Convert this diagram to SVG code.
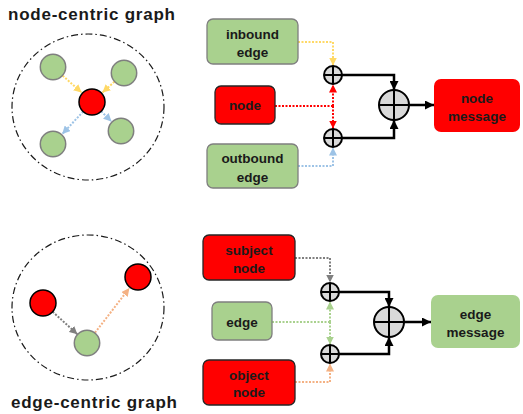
<svg xmlns="http://www.w3.org/2000/svg" width="523" height="414" viewBox="0 0 523 414">
  <style>
    .title { font-family: "Liberation Sans", Arial, sans-serif; font-weight: bold; font-size: 17px; fill: #1a1a1a; }
    .lbl { font-family: "Liberation Sans", Arial, sans-serif; font-weight: bold; font-size: 13.5px; fill: #1a1a1a; text-anchor: middle; }
    .gbox { fill: #A9D18E; stroke: #7F7F7F; stroke-width: 1.3; }
    .rbox { fill: #FF0000; stroke: #262626; stroke-width: 1.3; }
    .gmsg { fill: #A9D18E; }
    .rmsg { fill: #FF0000; }
    .gnode { fill: #A9D18E; stroke: #7F7F7F; stroke-width: 1.5; }
    .rnode { fill: #FF0000; stroke: #000; stroke-width: 1.5; }
    .scope { fill: none; stroke: #1a1a1a; stroke-width: 1.2; stroke-dasharray: 7 3 1.5 3; }
    .sum { fill: #D9D9D9; stroke: #000; stroke-width: 2; }
    .cross { stroke: #000; stroke-width: 2; }
    .dot { fill: none; stroke-width: 2; stroke-dasharray: 2 1.5; }
    .solid { fill: none; stroke: #000; stroke-width: 2.5; }
    .y { stroke: #FFD966; }
    .r { stroke: #FF0000; }
    .b { stroke: #9DC3E6; }
    .k { stroke: #7F7F7F; }
    .g { stroke: #A9D18E; }
    .o { stroke: #F4B183; }
  </style>
  <defs>
    <marker id="ah-y" viewBox="0 0 10 10" refX="10" refY="5" markerWidth="8" markerHeight="8" markerUnits="userSpaceOnUse" orient="auto"><path d="M0,0 L10,5 L0,10 z" fill="#FFD966"/></marker>
    <marker id="ah-r" viewBox="0 0 10 10" refX="10" refY="5" markerWidth="8" markerHeight="8" markerUnits="userSpaceOnUse" orient="auto"><path d="M0,0 L10,5 L0,10 z" fill="#FF0000"/></marker>
    <marker id="ah-b" viewBox="0 0 10 10" refX="10" refY="5" markerWidth="8" markerHeight="8" markerUnits="userSpaceOnUse" orient="auto"><path d="M0,0 L10,5 L0,10 z" fill="#9DC3E6"/></marker>
    <marker id="ah-k" viewBox="0 0 10 10" refX="10" refY="5" markerWidth="8" markerHeight="8" markerUnits="userSpaceOnUse" orient="auto"><path d="M0,0 L10,5 L0,10 z" fill="#7F7F7F"/></marker>
    <marker id="ah-g" viewBox="0 0 10 10" refX="10" refY="5" markerWidth="8" markerHeight="8" markerUnits="userSpaceOnUse" orient="auto"><path d="M0,0 L10,5 L0,10 z" fill="#A9D18E"/></marker>
    <marker id="ah-o" viewBox="0 0 10 10" refX="10" refY="5" markerWidth="8" markerHeight="8" markerUnits="userSpaceOnUse" orient="auto"><path d="M0,0 L10,5 L0,10 z" fill="#F4B183"/></marker>
    <marker id="ah-black" viewBox="0 0 10 10" refX="10" refY="5" markerWidth="9" markerHeight="9" markerUnits="userSpaceOnUse" orient="auto"><path d="M0,0 L10,5 L0,10 z" fill="#000"/></marker>
    <!-- summation symbol: circle with a plus -->
    <g id="plus-s">
      <circle class="sum" cx="0" cy="0" r="9"/>
      <path class="cross" d="M-9,0 H9 M0,-9 V9"/>
    </g>
    <g id="plus-l">
      <circle class="sum" cx="0" cy="0" r="15"/>
      <path class="cross" d="M-15,0 H15 M0,-15 V15"/>
    </g>
  </defs>

  <!-- titles -->
  <text class="title" x="8" y="20" textLength="167" lengthAdjust="spacing">node-centric graph</text>
  <text class="title" x="11" y="408" textLength="166" lengthAdjust="spacing">edge-centric graph</text>

  <!-- node-centric mini graph -->
  <g id="node-centric-graph">
    <ellipse class="scope" cx="88" cy="107" rx="76" ry="73"/>
    <g id="nc-connectors">
      <line class="dot y" x1="62.7" y1="75.7" x2="81.6" y2="92.6" marker-end="url(#ah-y)"/>
      <line class="dot y" x1="114.4" y1="81.7" x2="102.4" y2="92.6" marker-end="url(#ah-y)"/>
      <line class="dot b" x1="83.2" y1="111.5" x2="62.2" y2="134.1" marker-end="url(#ah-b)"/>
      <line class="dot b" x1="101.2" y1="111.2" x2="111.5" y2="121.5" marker-end="url(#ah-b)"/>
    </g>
    <g id="nc-n1"><circle class="gnode" cx="53" cy="67" r="12.7"/></g>
    <g id="nc-n2"><circle class="gnode" cx="124" cy="73" r="12.7"/></g>
    <g id="nc-n3"><circle class="gnode" cx="53" cy="144" r="12.7"/></g>
    <g id="nc-n4"><circle class="gnode" cx="121" cy="131" r="12.7"/></g>
    <g id="nc-center"><circle class="rnode" cx="92" cy="102" r="13"/></g>
  </g>

  <!-- edge-centric mini graph -->
  <g id="edge-centric-graph">
    <ellipse class="scope" cx="88" cy="307.5" rx="76" ry="72.5"/>
    <g id="ec-connectors">
      <line class="dot k" x1="52.6" y1="311.7" x2="77.4" y2="334.3" marker-end="url(#ah-k)"/>
      <line class="dot o" x1="95" y1="332.7" x2="129.4" y2="288.1" marker-end="url(#ah-o)"/>
    </g>
    <g id="ec-subject"><circle class="rnode" cx="43" cy="303" r="13"/></g>
    <g id="ec-object"><circle class="rnode" cx="138" cy="277" r="13"/></g>
    <g id="ec-edge"><circle class="gnode" cx="87" cy="343" r="12.7"/></g>
  </g>

  <!-- connectors of the two aggregation diagrams -->
  <g id="connectors">
    <path class="dot y" d="M298,42 H333 V65.5" marker-end="url(#ah-y)"/>
    <path class="dot r" d="M275,106 H333"/>
    <path class="dot r" d="M333,106 V84.5" marker-end="url(#ah-r)"/>
    <path class="dot r" d="M333,106 V128.5" marker-end="url(#ah-r)"/>
    <path class="dot b" d="M298,166 H333 V147.5" marker-end="url(#ah-b)"/>
    <path class="solid" d="M342,75 H394 V90" marker-end="url(#ah-black)"/>
    <path class="solid" d="M342,138 H394 V120" marker-end="url(#ah-black)"/>
    <path class="solid" d="M409,105 H434" marker-end="url(#ah-black)"/>

    <path class="dot k" d="M295,258 H330 V282.5" marker-end="url(#ah-k)"/>
    <path class="dot g" d="M272,322 H330"/>
    <path class="dot g" d="M330,322 V301.5" marker-end="url(#ah-g)"/>
    <path class="dot g" d="M330,322 V344.5" marker-end="url(#ah-g)"/>
    <path class="dot o" d="M295,382 H330 V363.5" marker-end="url(#ah-o)"/>
    <path class="solid" d="M339,292 H389 V307" marker-end="url(#ah-black)"/>
    <path class="solid" d="M339,354 H389 V337" marker-end="url(#ah-black)"/>
    <path class="solid" d="M404,322 H431" marker-end="url(#ah-black)"/>
  </g>

  <!-- node-centric aggregation -->
  <g id="inbound-edge">
    <rect class="gbox" x="207" y="19" width="91" height="45" rx="6"/>
    <text class="lbl" x="252.5" y="38.5">inbound</text>
    <text class="lbl" x="252.5" y="56.5">edge</text>
  </g>
  <g id="node">
    <rect class="rbox" x="215" y="86" width="60" height="38" rx="6"/>
    <text class="lbl" x="245" y="110">node</text>
  </g>
  <g id="outbound-edge">
    <rect class="gbox" x="207" y="144" width="91" height="44" rx="6"/>
    <text class="lbl" x="252.5" y="162.5">outbound</text>
    <text class="lbl" x="252.5" y="181.5">edge</text>
  </g>
  <g id="sum-in"><use href="#plus-s" x="333" y="75"/></g>
  <g id="sum-out"><use href="#plus-s" x="333" y="138"/></g>
  <g id="sum-node"><use href="#plus-l" x="394" y="105"/></g>
  <g id="node-message">
    <rect class="rmsg" x="434" y="79" width="86" height="53" rx="7"/>
    <text class="lbl" x="477" y="102.5">node</text>
    <text class="lbl" x="477" y="120.5">message</text>
  </g>

  <!-- edge-centric aggregation -->
  <g id="subject-node">
    <rect class="rbox" x="203" y="235" width="92" height="45" rx="6"/>
    <text class="lbl" x="249" y="254.5">subject</text>
    <text class="lbl" x="249" y="272.5">node</text>
  </g>
  <g id="edge">
    <rect class="gbox" x="212" y="302" width="60" height="38" rx="6"/>
    <text class="lbl" x="242" y="326.5">edge</text>
  </g>
  <g id="object-node">
    <rect class="rbox" x="203" y="360" width="92" height="45" rx="6"/>
    <text class="lbl" x="249" y="379.5">object</text>
    <text class="lbl" x="249" y="396.5">node</text>
  </g>
  <g id="sum-subj"><use href="#plus-s" x="330" y="292"/></g>
  <g id="sum-obj"><use href="#plus-s" x="330" y="354"/></g>
  <g id="sum-edge"><use href="#plus-l" x="389" y="322"/></g>
  <g id="edge-message">
    <rect class="gmsg" x="431" y="295" width="89" height="53" rx="7"/>
    <text class="lbl" x="475.5" y="318.5">edge</text>
    <text class="lbl" x="475.5" y="336.5">message</text>
  </g>
</svg>
